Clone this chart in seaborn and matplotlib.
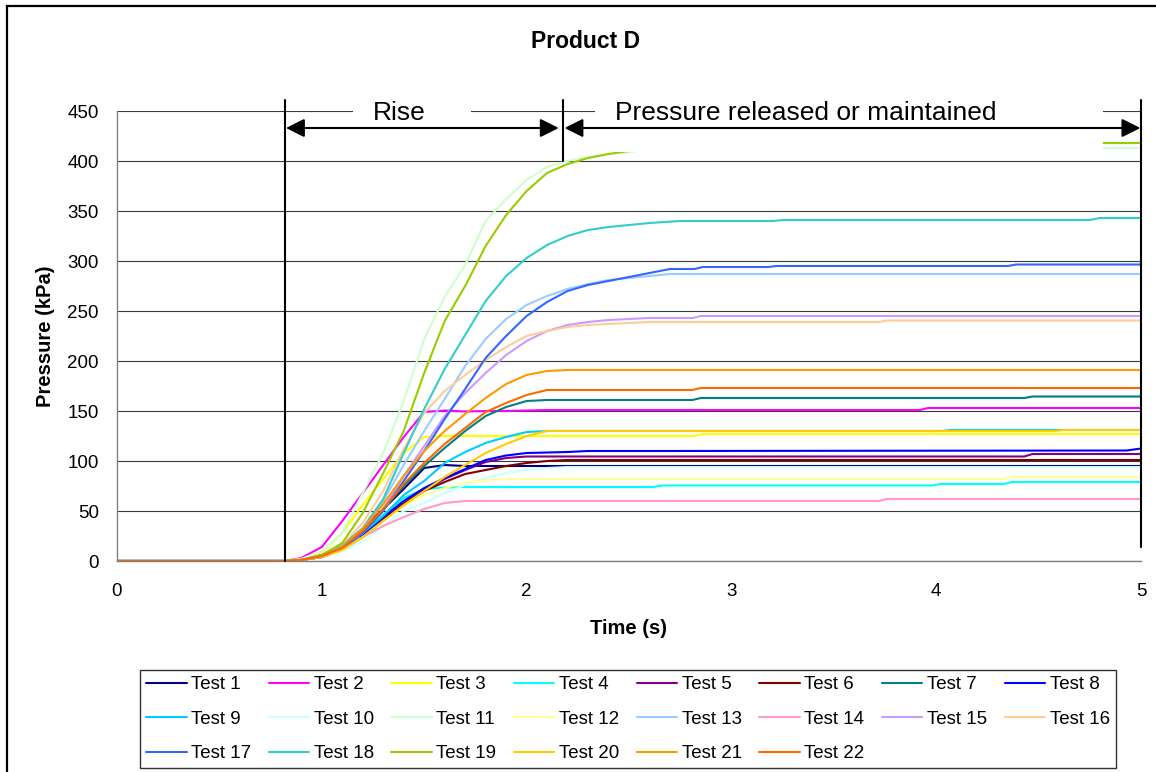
import matplotlib
matplotlib.use("Agg")
import matplotlib.pyplot as plt
from matplotlib.patches import Rectangle
import pandas as pd
import seaborn as sns

# ---- sampled pressure traces ----------------------------------------------
# shared sampling instants for the rise phase (s)
RISE_T = [0.00, 0.82, 0.90, 1.00, 1.10, 1.20, 1.30, 1.40, 1.50, 1.60,
          1.70, 1.80, 1.90, 2.00, 2.10, 2.20, 2.30, 2.40, 2.50, 2.60]

# pressure (kPa) at RISE_T for each test
test01 = [0, 0, 1, 6, 16, 32, 52, 72, 93, 96, 95, 95, 95, 95, 95, 95, 95, 95, 95, 95]
test02 = [0, 0, 3, 14, 40, 68, 96, 124, 149, 150.5, 149.5, 150, 150, 150.5, 151, 151, 151, 151, 151, 151]
test03 = [0, 0, 2, 9, 28, 56, 82, 108, 124, 125, 125, 125, 125, 125, 125, 125, 125, 125, 125, 125]
test04 = [0, 0, 1, 5, 13, 28, 46, 63, 72, 73.5, 74, 74, 74, 74, 74, 74, 74, 74, 74, 74]
test05 = [0, 0, 1, 4, 12, 25, 42, 58, 71, 82, 91, 99, 103, 104.5, 104.5, 104.5, 104.5, 104.5, 104.5, 104.5]
test06 = [0, 0, 1, 4, 11, 24, 41, 57, 70, 79, 87, 91, 95, 98, 100, 101, 101, 101, 101, 101]
test07 = [0, 0, 1, 5, 14, 30, 52, 75, 95, 113, 130, 145, 154, 160, 161, 161, 161, 161, 161, 161]
test08 = [0, 0, 1, 4, 12, 26, 44, 60, 73, 83, 92, 101, 105.5, 108, 108.5, 109, 110, 110, 110, 110]
test09 = [0, 0, 1, 5, 14, 28, 45, 66, 80, 98, 109, 118, 124, 129, 130, 130, 130, 130, 130, 130]
test10 = [0, 0, 1, 4, 10, 20, 35, 50, 58, 68, 76, 83, 88, 91, 93, 94, 94, 94, 94, 94]
test11 = [0, 0, 2, 10, 28, 68, 108, 160, 222, 264, 296, 340, 362, 381, 394, 400, 404, 407, 409, 411]
test12 = [0, 0, 1, 4, 11, 24, 40, 55, 66, 73, 78, 81, 82, 82, 82, 82, 82, 82, 82, 82]
test13 = [0, 0, 1, 5, 14, 32, 60, 96, 130, 162, 195, 222, 242, 256, 265, 272, 277, 281, 283, 285]
test14 = [0, 0, 1, 6, 14, 24, 35, 44, 52, 58, 60, 60, 60, 60, 60, 60, 60, 60, 60, 60]
test15 = [0, 0, 1, 4, 12, 28, 52, 85, 115, 145, 168, 188, 206, 220, 230, 236, 239, 241, 242, 243]
test16 = [0, 0, 1, 6, 16, 38, 70, 112, 148, 170, 186, 201, 214, 225, 230, 234, 236, 237, 238, 239]
test17 = [0, 0, 1, 4, 12, 28, 50, 80, 110, 142, 172, 203, 225, 245, 259, 270, 276, 280, 284, 288]
test18 = [0, 0, 1, 6, 15, 33, 62, 108, 152, 192, 226, 260, 285, 303, 316, 325, 331, 334, 336, 338]
test19 = [0, 0, 1, 6, 18, 48, 88, 130, 188, 240, 275, 315, 346, 370, 388, 397, 403, 407, 410, 412]
test20 = [0, 0, 1, 4, 11, 24, 40, 56, 70, 84, 96, 108, 117, 125, 130, 130, 130, 130, 130, 130]
test21 = [0, 0, 1, 5, 14, 32, 57, 85, 110, 130, 147, 163, 177, 186, 190, 191, 191, 191, 191, 191]
test22 = [0, 0, 1, 5, 13, 30, 52, 77, 98, 117, 133, 149, 158, 166, 171, 171, 171, 171, 171, 171]

# hold phase after 2.6 s: (time s, pressure kPa)
hold01 = [(5.0, 95)]
hold02 = [(3.92, 151), (3.96, 153), (5.0, 153)]
hold03 = [(2.82, 125), (2.86, 127), (5.0, 127)]
hold04 = [(2.62, 74), (2.66, 75.5), (3.98, 75.5), (4.02, 77), (4.33, 77), (4.37, 79), (5.0, 79)]
hold05 = [(4.43, 104.5), (4.47, 107), (5.0, 107)]
hold06 = [(5.0, 101)]
hold07 = [(2.81, 161), (2.85, 163), (4.43, 163), (4.47, 164.5), (5.0, 164.5)]
hold08 = [(4.93, 110.5), (5.0, 112.5)]
hold09 = [(4.03, 130), (4.07, 131), (5.0, 131)]
hold10 = [(5.0, 94)]
hold11 = [(2.9, 413), (5.0, 413)]
hold12 = [(4.33, 82), (4.37, 84), (5.0, 84)]
hold13 = [(2.7, 287), (5.0, 287)]
hold14 = [(3.72, 60), (3.76, 62), (5.0, 62)]
hold15 = [(2.81, 243), (2.85, 245), (5.0, 245)]
hold16 = [(3.72, 239), (3.76, 240.5), (5.0, 240.5)]
hold17 = [(2.7, 292), (2.82, 292), (2.86, 294), (3.18, 294), (3.22, 295),
          (4.35, 295), (4.39, 296.5), (5.0, 296.5)]
hold18 = [(2.75, 340), (3.2, 340), (3.25, 341), (4.75, 341), (4.8, 343), (5.0, 343)]
hold19 = [(2.9, 415), (3.5, 418), (5.0, 418)]
hold20 = [(4.58, 130), (4.62, 131), (5.0, 131)]
hold21 = [(5.0, 191)]
hold22 = [(2.81, 171), (2.85, 173), (5.0, 173)]

TEST_NAMES = [f"Test {i}" for i in range(1, 23)]
COLORS = ["#000080", "#FF00FF", "#FFFF00", "#00FFFF", "#800080", "#800000",
          "#008080", "#0000FF", "#00CCFF", "#CCFFFF", "#CCFFCC", "#FFFF99",
          "#99CCFF", "#FF99CC", "#CC99FF", "#FFCC99", "#3366FF", "#33CCCC",
          "#99CC00", "#FFCC00", "#FF9900", "#FF6600"]

Y_TICKS = [0, 50, 100, 150, 200, 250, 300, 350, 400, 450]
X_TICKS = [0, 1, 2, 3, 4, 5]

# phase markers (s)
RISE_START = 0.82
RISE_END = 2.18
TRACE_END = 5.0

rise_curves = [test01, test02, test03, test04, test05, test06, test07, test08,
               test09, test10, test11, test12, test13, test14, test15, test16,
               test17, test18, test19, test20, test21, test22]
hold_curves = [hold01, hold02, hold03, hold04, hold05, hold06, hold07, hold08,
               hold09, hold10, hold11, hold12, hold13, hold14, hold15, hold16,
               hold17, hold18, hold19, hold20, hold21, hold22]

rows = []
for name, rise, hold in zip(TEST_NAMES, rise_curves, hold_curves):
    for t, p in zip(RISE_T, rise):
        rows.append((name, t, p))
    for t, p in hold:
        rows.append((name, t, p))
df = pd.DataFrame(rows, columns=["Test", "Time (s)", "Pressure (kPa)"])

# ---- figure ---------------------------------------------------------------
sns.set_theme(style="white")
plt.rcParams["font.family"] = ["Liberation Sans", "DejaVu Sans"]
plt.rcParams["text.color"] = "black"
plt.rcParams["axes.labelcolor"] = "black"

W, H = 1156, 772
fig = plt.figure(figsize=(W / 100, H / 100), dpi=100)
fig.patch.set_facecolor("white")
ax = fig.add_axes([117 / W, 1 - 561 / H, 1024 / W, 450 / H])

sns.lineplot(data=df, x="Time (s)", y="Pressure (kPa)", hue="Test",
             hue_order=TEST_NAMES, palette=COLORS, estimator=None, sort=False,
             linewidth=1.5, legend=False, ax=ax)

ax.set_xlim(0, 5)
ax.set_ylim(0, 450)
ax.set_xticks(X_TICKS)
ax.set_yticks(Y_TICKS)
ax.set_axisbelow(True)
ax.yaxis.grid(True, color="#3a3a3a", linewidth=0.8)
ax.xaxis.grid(False)
for side in ("top", "right"):
    ax.spines[side].set_visible(False)
for side in ("left", "bottom"):
    ax.spines[side].set_color("#808080")
    ax.spines[side].set_linewidth(1.0)
ax.tick_params(axis="both", direction="out", length=6, width=1,
               color="#808080", labelsize=13.5, labelcolor="black")
ax.tick_params(axis="y", pad=7)
ax.tick_params(axis="x", pad=10)

ax.set_xlabel("Time (s)", fontsize=14.5, fontweight="bold", color="black")
ax.set_ylabel("Pressure (kPa)", fontsize=14.5, fontweight="bold", color="black")
ax.xaxis.set_label_coords(0.5, -0.128)
ax.yaxis.set_label_coords(-0.061, 0.5)

# ---- phase annotations ----------------------------------------------------
# white text panels sit above the traces
ax.add_patch(Rectangle((1.152, 408.8), 0.577, 60, facecolor="white",
                       edgecolor="none", zorder=3, clip_on=False))
ax.add_patch(Rectangle((2.334, 408.8), 2.48, 60, facecolor="white",
                       edgecolor="none", zorder=3, clip_on=False))
ax.text(1.25, 441, "Rise", fontsize=19, ha="left", va="baseline", zorder=4,
        clip_on=False)
ax.text(2.432, 441, "Pressure released or maintained", fontsize=19,
        ha="left", va="baseline", zorder=4, clip_on=False)

ax.plot([RISE_START, RISE_START], [0, 461], color="black", lw=1.5,
        zorder=5, clip_on=False)
ax.plot([RISE_END, RISE_END], [400, 461], color="black", lw=1.5,
        zorder=5, clip_on=False)
ax.plot([TRACE_END, TRACE_END], [14, 461], color="black", lw=1.5,
        zorder=5, clip_on=False)

arrow_style = dict(arrowstyle="<|-|>,head_length=0.8,head_width=0.4",
                   color="black", lw=1.5, shrinkA=0, shrinkB=0,
                   mutation_scale=14)
ax.annotate("", xy=(RISE_START + 0.005, 433), xytext=(2.157, 433),
            arrowprops=arrow_style, zorder=5, annotation_clip=False)
ax.annotate("", xy=(RISE_END + 0.005, 433), xytext=(TRACE_END - 0.003, 433),
            arrowprops=arrow_style, zorder=5, annotation_clip=False)

# ---- title, legend, frame -------------------------------------------------
fig.text(586 / W, 1 - 48 / H, "Product D", ha="center", va="baseline",
         fontsize=16.5, fontweight="bold", color="black")

order = [r * 8 + c for c in range(8) for r in range(3) if r * 8 + c < 22]
lines = ax.get_lines()[:22]
leg = fig.legend([lines[i] for i in order], [TEST_NAMES[i] for i in order],
                 loc="upper left", ncol=8, mode="expand",
                 bbox_to_anchor=(140 / W, 1 - 670 / H, 976 / W, 0.0),
                 fontsize=13.5, frameon=True, fancybox=False, shadow=False,
                 handlelength=2.15, handletextpad=0.25, columnspacing=0.5,
                 labelspacing=0.92, borderpad=0.33, borderaxespad=0.0)
leg.get_frame().set_edgecolor("black")
leg.get_frame().set_linewidth(1.0)
for h in leg.legend_handles:
    h.set_linewidth(1.5)
for txt in leg.get_texts():
    txt.set_color("black")

fig.add_artist(Rectangle((7 / W, -0.1), 1.2, 1.1 - 6 / H,
                         transform=fig.transFigure, fill=False,
                         edgecolor="black", linewidth=1.6, clip_on=False))

fig.savefig("out.png", dpi=100, facecolor="white")
